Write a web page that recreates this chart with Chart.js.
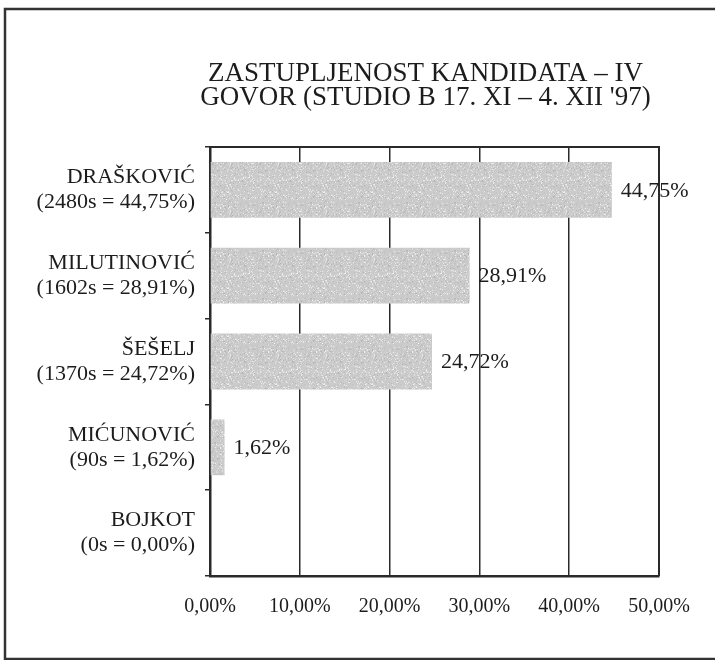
<!DOCTYPE html>
<html>
<head>
<meta charset="utf-8">
<style>
  html, body { margin: 0; padding: 0; background: #fff; }
  #wrap { position: relative; width: 715px; height: 660px; }
</style>
<script src="https://cdn.jsdelivr.net/npm/chart.js@4/dist/chart.umd.min.js"></script>
</head>
<body>
<div id="wrap"><canvas id="chart" width="715" height="660"></canvas></div>
<script>
// candidates, seconds of speech and share of total
const candidates = ['DRAŠKOVIĆ', 'MILUTINOVIĆ', 'ŠEŠELJ', 'MIĆUNOVIĆ', 'BOJKOT'];
const seconds = [2480, 1602, 1370, 90, 0];
const shares = [44.75, 28.91, 24.72, 1.62, 0.00];
const xTicks = [0, 10, 20, 30, 40, 50];
const titleLines = ['ZASTUPLJENOST KANDIDATA – IV', "GOVOR (STUDIO B 17. XI – 4. XII '97)"];

const SERIF = '"Liberation Serif", "Times New Roman", serif';
const INK = '#1c1c1c';

const pct = v => v.toFixed(2).replace('.', ',') + '%';
const labels = candidates.map((name, i) => [name, '(' + seconds[i] + 's = ' + pct(shares[i]) + ')']);

// speckled grey fill for the bars
function grainPattern() {
    const c = document.createElement('canvas');
    c.width = 48; c.height = 48;
    const g = c.getContext('2d');
    g.fillStyle = '#cbcbcb';
    g.fillRect(0, 0, 48, 48);
    let s = 12345;
    const next = () => { s = (s * 1103515245 + 12345) & 0x7fffffff; return s / 0x7fffffff; };
    for (let i = 0; i < 700; i++) {
        const x = Math.floor(next() * 48), y = Math.floor(next() * 48);
        const shade = next() < 0.5 ? 180 + Math.floor(next() * 20) : 215 + Math.floor(next() * 25);
        g.fillStyle = 'rgb(' + shade + ',' + shade + ',' + shade + ')';
        g.fillRect(x, y, 1, 1);
    }
    return g.createPattern(c, 'repeat');
}

const ctx = document.getElementById('chart').getContext('2d');

// page frame, plot outline, title and value labels
const decorations = {
    id: 'decorations',
    beforeDraw(chart) {
        const c = chart.ctx;
        c.save();
        c.fillStyle = '#fff';
        c.fillRect(0, 0, chart.width, chart.height);
        c.strokeStyle = '#333';
        c.lineWidth = 2.5;
        c.beginPath();
        c.moveTo(chart.width, 9);
        c.lineTo(5, 9);
        c.lineTo(5, 659);
        c.lineTo(chart.width, 659);
        c.stroke();
        c.restore();
    },
    afterDraw(chart) {
        const c = chart.ctx;
        const area = chart.chartArea;
        c.save();
        c.strokeStyle = '#2a2a2a';
        c.lineWidth = 2;
        c.beginPath();
        c.moveTo(area.left, area.top);
        c.lineTo(area.right, area.top);
        c.lineTo(area.right, area.bottom);
        c.stroke();

        c.fillStyle = INK;
        c.font = '27px ' + SERIF;
        c.textAlign = 'center';
        c.textBaseline = 'alphabetic';
        const cx = (area.left + area.right) / 2 - 9;
        titleLines.forEach((line, i) => c.fillText(line, cx, 81 + i * 24));

        c.font = '22px ' + SERIF;
        c.textAlign = 'left';
        c.textBaseline = 'middle';
        const meta = chart.getDatasetMeta(0);
        meta.data.forEach((bar, i) => {
            if (shares[i] <= 0) return;
            c.fillText(pct(shares[i]), bar.x + 9, bar.y + 1);
        });
        c.restore();
    }
};

new Chart(ctx, {
    type: 'bar',
    data: {
        labels: labels,
        datasets: [{
            data: shares,
            backgroundColor: grainPattern(),
            borderWidth: 0,
            categoryPercentage: 1,
            barPercentage: 0.65
        }]
    },
    options: {
        indexAxis: 'y',
        responsive: false,
        animation: false,
        layout: { padding: { top: 147, right: 56, left: 0, bottom: 0 } },
        plugins: {
            legend: { display: false },
            title: { display: false },
            tooltip: { enabled: false }
        },
        scales: {
            x: {
                min: 0,
                max: 50,
                afterBuildTicks: scale => { scale.ticks = xTicks.map(v => ({ value: v })); },
                afterFit: scale => { scale.height = 84; },
                grid: { color: '#2a2a2a', lineWidth: 1.5, drawTicks: false },
                border: { display: true, color: '#2a2a2a', width: 2.5 },
                ticks: {
                    padding: 19,
                    color: INK,
                    font: { family: SERIF, size: 20 },
                    callback: v => pct(v)
                }
            },
            y: {
                afterFit: scale => { scale.width = 210; },
                grid: { drawOnChartArea: false, drawTicks: true, tickLength: 5, color: '#2a2a2a', lineWidth: 1.5 },
                border: { display: true, color: '#2a2a2a', width: 2.5 },
                ticks: {
                    padding: 10,
                    color: INK,
                    font: { family: SERIF, size: 22, lineHeight: 1.14 }
                }
            }
        }
    },
    plugins: [decorations]
});
</script>
</body>
</html>
